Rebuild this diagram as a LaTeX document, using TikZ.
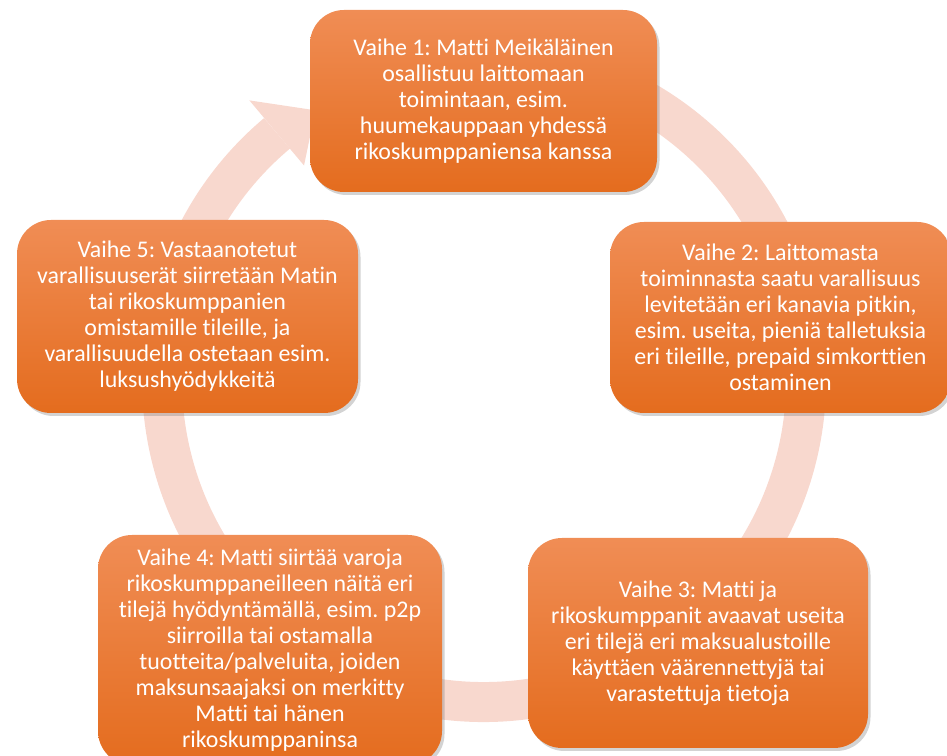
\documentclass[tikz,border=0pt]{standalone}
\usepackage{fontspec}
\setmainfont[Ligatures=NoCommon]{Carlito}
\usetikzlibrary{shadows,calc}
\definecolor{ringpink}{HTML}{F8D8CE}
\definecolor{boxtop}{HTML}{F08D55}
\definecolor{boxmid}{HTML}{F47D2A}
\definecolor{boxbot}{HTML}{E46C1E}
\frenchspacing
\begin{document}
\begin{tikzpicture}
            \tikzstyle{ring} = [color=ringpink, line width=0.8cm]
            \tikzstyle{stage} = [rounded corners=0.68cm, top color=boxtop, middle color=boxmid, bottom color=boxbot,
                                 drop shadow={shadow xshift=0.05cm, shadow yshift=-0.06cm, opacity=0.35},
                                 text=white, align=center, inner sep=0pt,
                                 font=\fontsize{13.6pt}{14.8pt}\selectfont]
            \useasboundingbox (0, 0) rectangle (18.94, 15.1);
            \coordinate (mid) at (9.68, 7.5);

            % the cycle behind the stages
            \draw[ring] (mid) ++(100:6.44) arc[start angle=100, end angle=-230, radius=6.44];
            \fill[ringpink] ($(mid)+(130:5.6)$) -- ($(mid)+(130:7.3)$) -- ($(mid)+(122:6.36)$) -- cycle;

            \node[stage, minimum width=6.94cm, minimum height=3.64cm] (vaihe1) at (9.67, 13.08)
                {Vaihe 1: Matti Meikäläinen\\osallistuu laittomaan\\toimintaan, esim.\\huumekauppaan yhdessä\\rikoskumppaniensa kanssa};
            \node[stage, minimum width=6.82cm, minimum height=3.82cm] (vaihe2) at (15.61, 8.75)
                {Vaihe 2: Laittomasta\\toiminnasta saatu varallisuus\\levitetään eri kanavia pitkin,\\esim. useita, pieniä talletuksia\\eri tileille, prepaid simkorttien\\ostaminen};
            \node[stage, minimum width=6.80cm, minimum height=4.20cm] (vaihe3) at (13.96, 2.24)
                {Vaihe 3: Matti ja\\rikoskumppanit avaavat useita\\eri tilejä eri maksualustoille\\käyttäen väärennettyjä tai\\varastettuja tietoja};
            \node[stage, minimum width=6.88cm, minimum height=4.60cm] (vaihe4) at (5.40, 2.10)
                {Vaihe 4: Matti siirtää varoja\\rikoskumppaneilleen näitä eri\\tilejä hyödyntämällä, esim. p2p\\siirroilla tai ostamalla\\tuotteita/palveluita, joiden\\maksunsaajaksi on merkitty\\Matti tai hänen\\rikoskumppaninsa};
            \node[stage, minimum width=6.82cm, minimum height=3.86cm] (vaihe5) at (3.75, 8.77)
                {Vaihe 5: Vastaanotetut\\varallisuuserät siirretään Matin\\tai rikoskumppanien\\omistamille tileille, ja\\varallisuudella ostetaan esim.\\luksushyödykkeitä};
        \end{tikzpicture}
\end{document}
